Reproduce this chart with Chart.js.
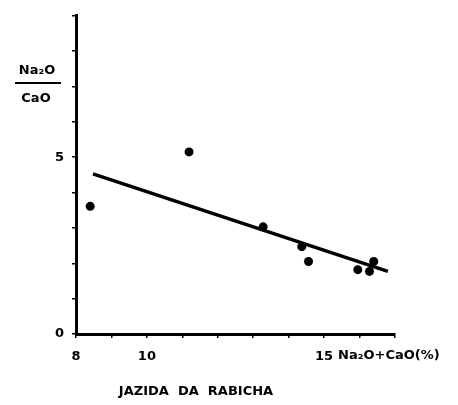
<!DOCTYPE html>
<html>
<head>
<meta charset="utf-8">
<script src="https://cdn.jsdelivr.net/npm/chart.js@4/dist/chart.umd.min.js"></script>
<style>
  html, body { margin:0; padding:0; background:#fff; }
  #wrap { width:458px; height:405px; }
</style>
</head>
<body>
<div id="wrap"><canvas id="chart" width="458" height="405"></canvas></div>
<script>

/* ---------- data ---------- */

const sampleX = [8.40, 11.19, 13.28, 14.37, 14.56, 15.95, 16.40, 16.28];
const sampleY = [3.61, 5.15, 3.03, 2.47, 2.05, 1.82, 2.05, 1.77];

const fitX = [8.48, 16.80];
const fitY = [4.53, 1.77];

const xLabelTicks = { 8:"8", 10:"10", 15:"15" };
const yLabelTicks = { 0:"0", 5:"5" };

const xUnitText = "Na\u2082O+CaO(%)";
const yTopText = "Na\u2082O";
const yBottomText = "CaO";
const footText = "JAZIDA  DA  RABICHA";

const FAMILY = "'DejaVu Sans', sans-serif";
const FONT = "bold 13px " + FAMILY;


/* ---------- extra texts ---------- */

const textPlugin = {
    id:"texts",
    afterDraw(chart){
        const ctx = chart.ctx;
        const xs = chart.scales.x;
        ctx.save();
        ctx.fillStyle = "#000";
        ctx.font = FONT;
        ctx.textBaseline = "middle";

        // unit after the "15" tick
        ctx.textAlign = "left";
        ctx.fillText(xUnitText, xs.getPixelForValue(15) + 14, 356);

        // y axis fraction label
        ctx.textAlign = "center";
        ctx.fillText(yTopText, 37, 71);
        ctx.fillRect(15, 82, 46, 2);
        ctx.fillText(yBottomText, 36, 99);

        // caption
        ctx.fillText(footText, 196, 392);
        ctx.restore();
    }
};


/* ---------- chart ---------- */

const ctx = document.getElementById("chart").getContext("2d");

new Chart(ctx,{
    type:"scatter",
    data:{
        datasets:[
            {
                label:"fit",
                type:"line",
                data:fitX.map((x,i)=>({x, y:fitY[i]})),
                borderColor:"#000",
                borderWidth:3.5,
                pointRadius:0,
                fill:false
            },
            {
                label:"samples",
                data:sampleX.map((x,i)=>({x, y:sampleY[i]})),
                backgroundColor:"#000",
                borderColor:"#000",
                pointRadius:4.5,
                pointBorderWidth:0
            }
        ]
    },
    options:{
        responsive:false,
        animation:false,
        events:[],
        layout:{ padding:{ left:0, top:13, right:63, bottom:0 } },
        plugins:{
            legend:{ display:false },
            tooltip:{ enabled:false }
        },
        scales:{
            x:{
                type:"linear",
                min:8,
                max:17,
                afterFit(scale){ scale.height = 71; },
                border:{ color:"#000", width:3 },
                grid:{
                    drawOnChartArea:false,
                    drawTicks:true,
                    tickLength:4,
                    color:"#000",
                    lineWidth:1.5
                },
                ticks:{
                    stepSize:1,
                    autoSkip:false,
                    maxRotation:0,
                    padding:11,
                    color:"#000",
                    font:{ family:FAMILY, size:13, weight:"bold" },
                    callback:v => xLabelTicks[v] || ""
                }
            },
            y:{
                type:"linear",
                min:0,
                max:9,
                afterFit(scale){ scale.width = 76; },
                border:{ color:"#000", width:3 },
                grid:{
                    drawOnChartArea:false,
                    drawTicks:true,
                    tickLength:4,
                    color:"#000",
                    lineWidth:1.5
                },
                ticks:{
                    stepSize:1,
                    autoSkip:false,
                    padding:8,
                    color:"#000",
                    font:{ family:FAMILY, size:13, weight:"bold" },
                    callback:v => yLabelTicks[v] || ""
                }
            }
        }
    },
    plugins:[textPlugin]
});

</script>
</body>
</html>
